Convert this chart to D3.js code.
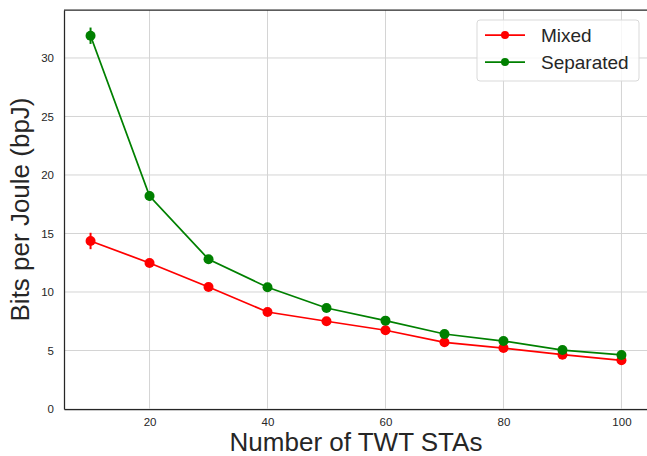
<!DOCTYPE html>
<html>
<head>
<meta charset="utf-8">
<script src="https://cdn.jsdelivr.net/npm/d3@7"></script>
<style>
  body { margin: 0; background: #fff; }
  svg { font-family: "Liberation Sans", Arial, sans-serif; }
</style>
</head>
<body>
<svg id="chart" width="647" height="456"></svg>
<script>
// chart values
const stas = [10, 20, 30, 40, 50, 60, 70, 80, 90, 100];
const mixed = [14.36, 12.48, 10.43, 8.29, 7.50, 6.73, 5.70, 5.21, 4.64, 4.16];
const mixedErr = [0.7, 0.35, 0.3, 0.15, 0.12, 0.1, 0.1, 0.08, 0.08, 0.08];
const separated = [31.9, 18.2, 12.8, 10.4, 8.63, 7.55, 6.41, 5.81, 5.04, 4.62];
const separatedErr = [0.7, 0.4, 0.35, 0.15, 0.12, 0.1, 0.1, 0.08, 0.08, 0.08];
const xTicks = [20, 40, 60, 80, 100];
const yTicks = [0, 5, 10, 15, 20, 25, 30];

const series = [
  { name: "Mixed", color: "red", values: mixed, errs: mixedErr },
  { name: "Separated", color: "green", values: separated, errs: separatedErr }
];

const margin = { top: 10, right: -1, bottom: 47, left: 64 };
const width = 647, height = 456;

const svg = d3.select("#chart");

const x = d3.scaleLinear().domain([5.5, 104.5]).range([margin.left, width - margin.right]);
const y = d3.scaleLinear().domain([0, 34.1]).range([height - margin.bottom, margin.top]);

// grid
svg.append("g")
  .selectAll("line.vgrid")
  .data(xTicks)
  .enter().append("line")
  .attr("x1", d => x(d)).attr("x2", d => x(d))
  .attr("y1", y(0)).attr("y2", y(34.1))
  .attr("stroke", "#d4d4d4").attr("stroke-width", 1);

svg.append("g")
  .selectAll("line.hgrid")
  .data(yTicks)
  .enter().append("line")
  .attr("x1", x(5.5)).attr("x2", x(104.5))
  .attr("y1", d => y(d)).attr("y2", d => y(d))
  .attr("stroke", "#d4d4d4").attr("stroke-width", 1);

// axes
const xAxis = svg.append("g")
  .attr("transform", `translate(0,${y(0)})`)
  .call(d3.axisBottom(x).tickValues(xTicks).tickSize(0).tickPadding(9));
const yAxis = svg.append("g")
  .attr("transform", `translate(${x(5.5)},0)`)
  .call(d3.axisLeft(y).tickValues(yTicks).tickSize(0).tickPadding(10));

[xAxis, yAxis].forEach(a => {
  a.attr("font-family", null).attr("font-size", null);
  a.select(".domain").attr("stroke", "#262626").attr("stroke-width", 1.25);
  a.selectAll("text").attr("fill", "#262626").style("font-size", "11.5px");
});

// top spine
svg.append("line")
  .attr("x1", x(5.5)).attr("x2", x(104.5))
  .attr("y1", y(34.1)).attr("y2", y(34.1))
  .attr("stroke", "#262626").attr("stroke-width", 1.25);

const line = d3.line().x(d => x(d[0])).y(d => y(d[1]));

series.forEach(s => {
  const pts = stas.map((v, i) => [v, s.values[i], s.errs[i]]);
  const g = svg.append("g");
  g.append("path")
    .datum(pts)
    .attr("d", line)
    .attr("fill", "none")
    .attr("stroke", s.color)
    .attr("stroke-width", 1.75);
  g.selectAll("line.err")
    .data(pts)
    .enter().append("line")
    .attr("x1", d => x(d[0])).attr("x2", d => x(d[0]))
    .attr("y1", d => y(d[1] - d[2])).attr("y2", d => y(d[1] + d[2]))
    .attr("stroke", s.color).attr("stroke-width", 2);
  g.selectAll("circle")
    .data(pts)
    .enter().append("circle")
    .attr("cx", d => x(d[0])).attr("cy", d => y(d[1]))
    .attr("r", 5)
    .attr("fill", s.color);
});

// axis labels
svg.append("text")
  .attr("x", (x(5.5) + x(104.5)) / 2)
  .attr("y", 451)
  .attr("text-anchor", "middle")
  .attr("fill", "#262626")
  .style("font-size", "26px")
  .text("Number of TWT STAs");

svg.append("text")
  .attr("transform", `translate(29,${(y(0) + y(34.1)) / 2}) rotate(-90)`)
  .attr("text-anchor", "middle")
  .attr("fill", "#262626")
  .style("font-size", "26px")
  .text("Bits per Joule (bpJ)");

// legend
const legend = svg.append("g").attr("transform", "translate(477,20)");
legend.append("rect")
  .attr("width", 162).attr("height", 61)
  .attr("rx", 3)
  .attr("fill", "#fff").attr("fill-opacity", 0.8)
  .attr("stroke", "#d9d9d9");

series.forEach((s, i) => {
  const row = legend.append("g").attr("transform", `translate(0,${15 + i * 27})`);
  row.append("line")
    .attr("x1", 8).attr("x2", 48)
    .attr("stroke", s.color).attr("stroke-width", 1.75);
  row.append("circle").attr("cx", 28).attr("r", 4).attr("fill", s.color);
  row.append("text")
    .attr("x", 64).attr("dy", "0.35em")
    .attr("fill", "#262626")
    .style("font-size", "19px")
    .text(s.name);
});
</script>
</body>
</html>
